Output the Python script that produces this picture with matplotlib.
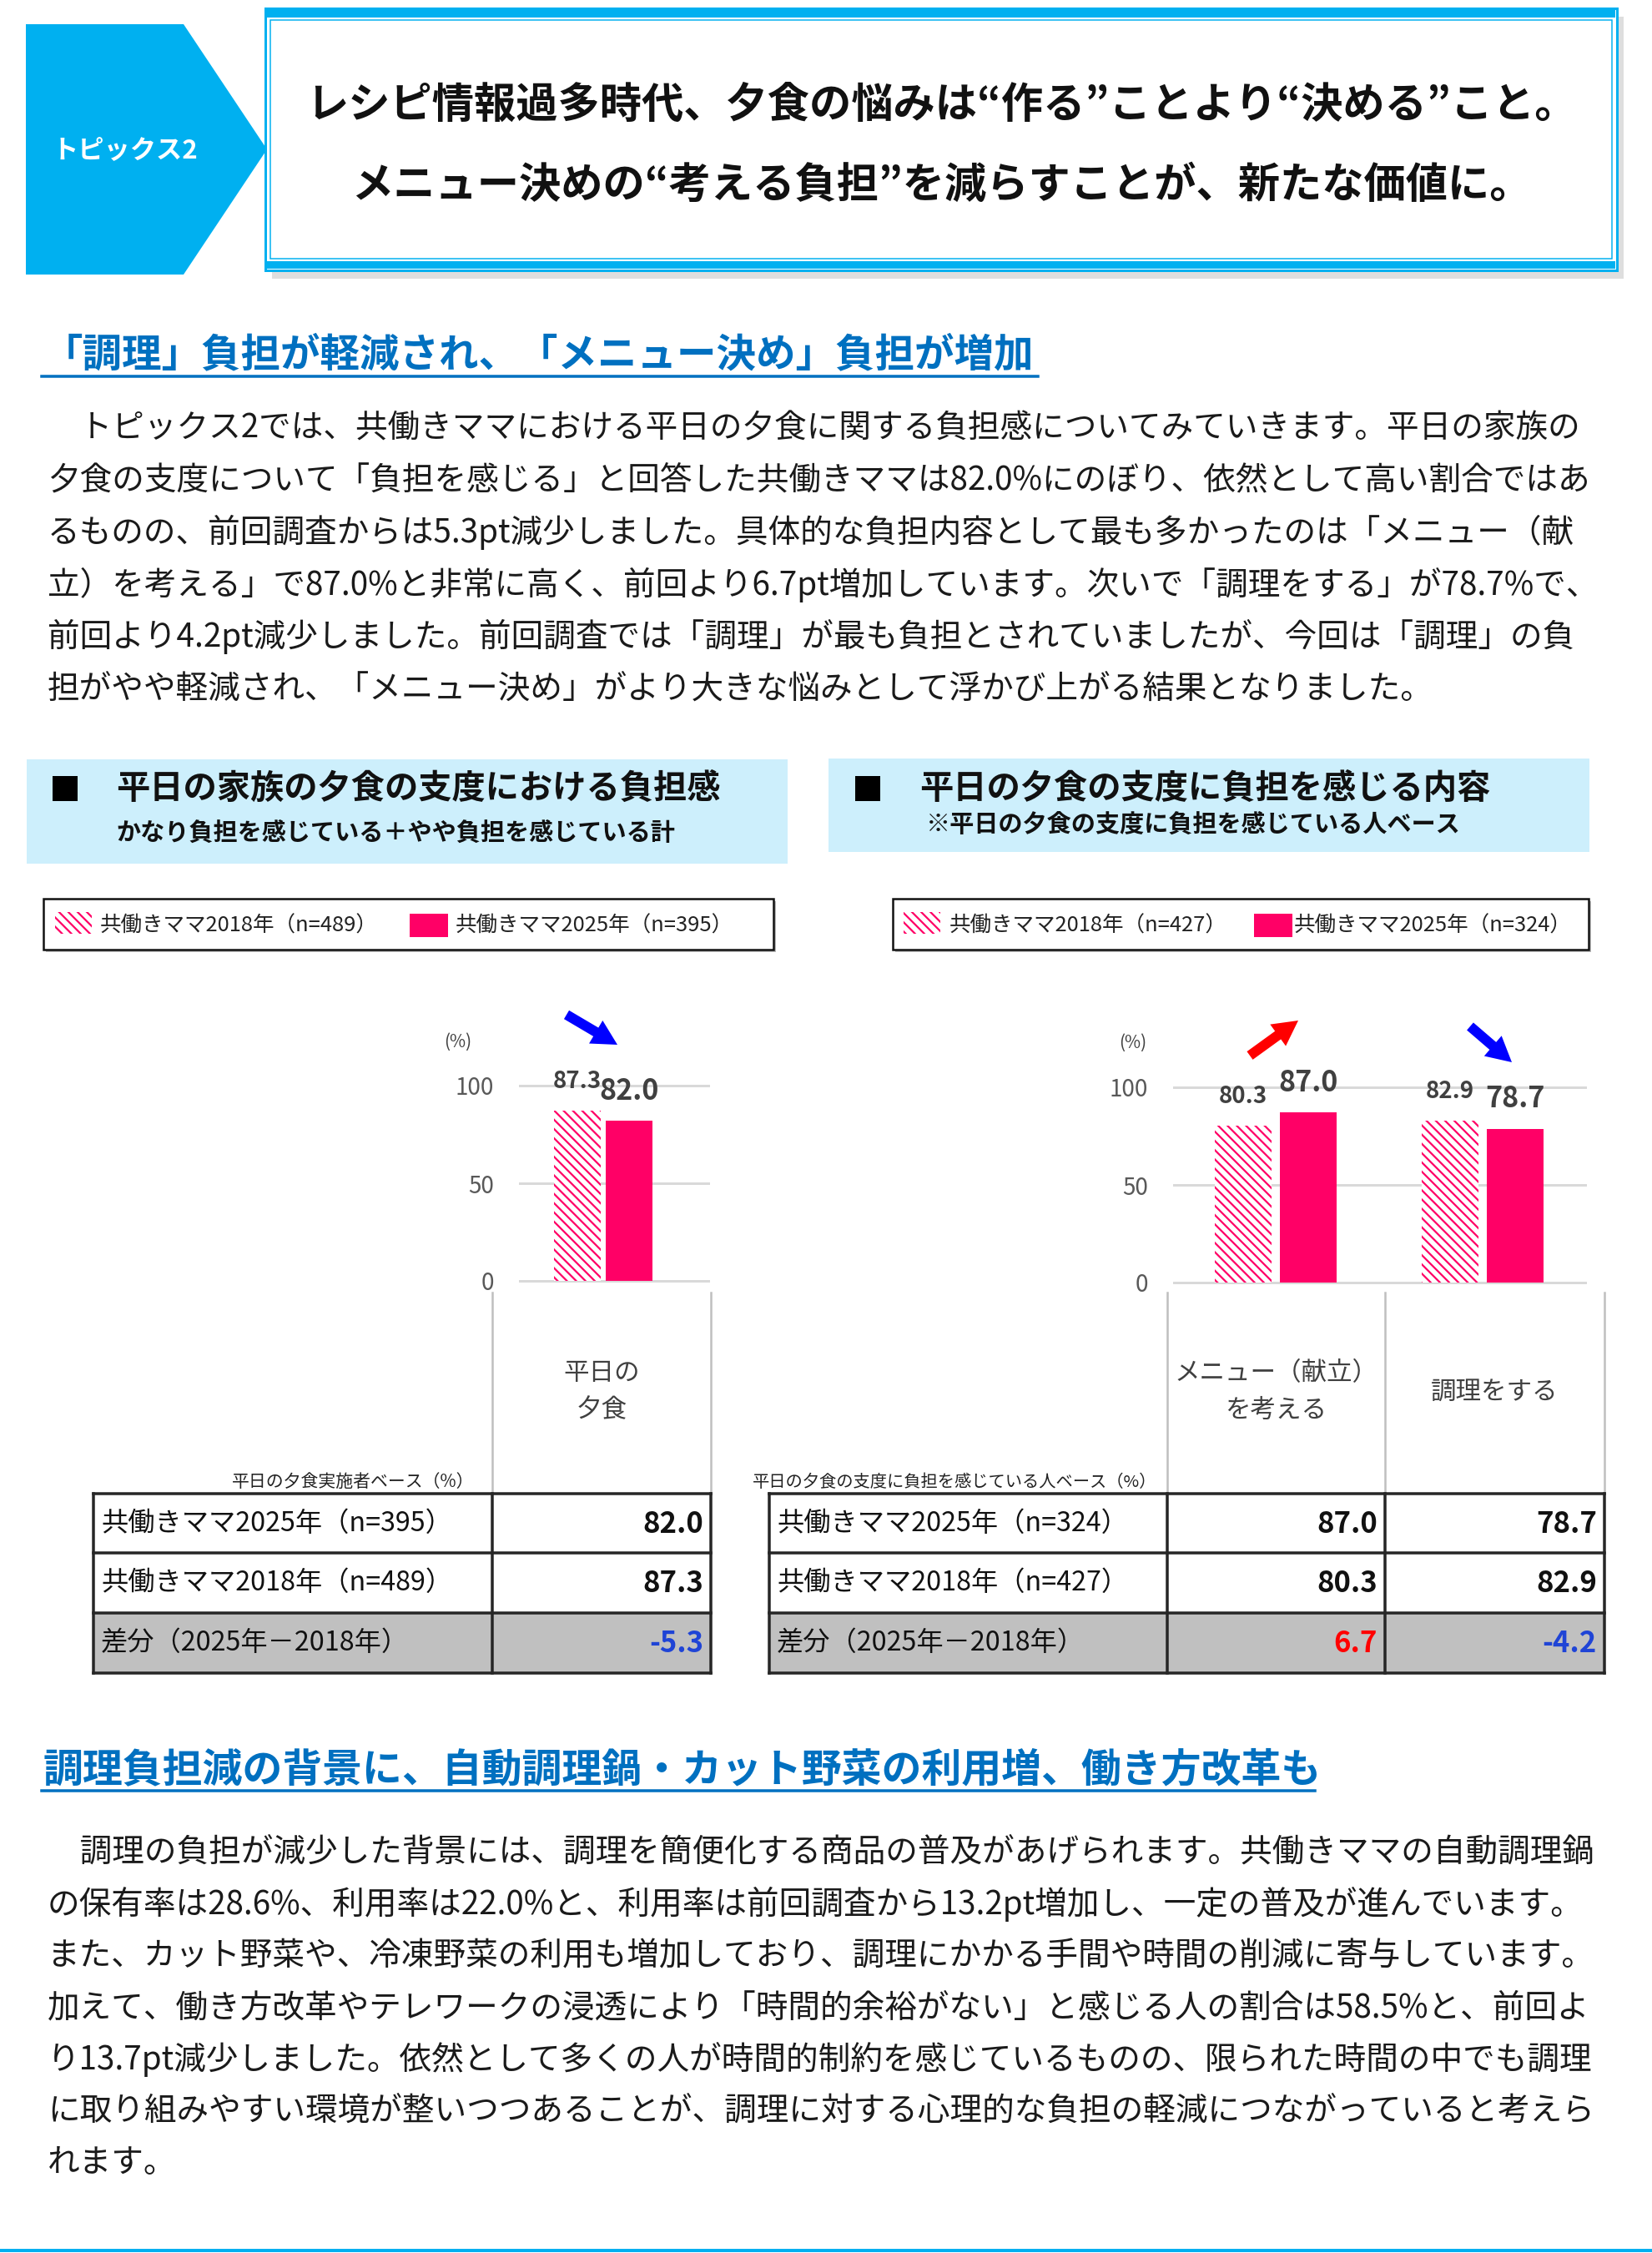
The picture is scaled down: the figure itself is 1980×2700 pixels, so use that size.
import matplotlib
matplotlib.use('Agg')
import matplotlib.pyplot as plt
from matplotlib.patches import Rectangle, Polygon, FancyArrow
import numpy as np

plt.rcParams['font.family'] = ['Noto Sans CJK JP', 'DejaVu Sans']
plt.rcParams['hatch.linewidth'] = 1.6

W, H = 1980, 2700
PINK = '#FF0066'
CYAN = '#00B0F0'
BLUE_HEAD = '#0070C0'
BOX_BG = '#CDEFFC'

# ---- text / data ----
topic_label = 'トピックス2'
title_lines = ['レシピ情報過多時代、夕食の悩みは“作る”ことより“決める”こと。',
               'メニュー決めの“考える負担”を減らすことが、新たな価値に。']
heading1 = '「調理」負担が軽減され、「メニュー決め」負担が増加'
para1 = ['　トピックス2では、共働きママにおける平日の夕食に関する負担感についてみていきます。平日の家族の',
         '夕食の支度について「負担を感じる」と回答した共働きママは82.0%にのぼり、依然として高い割合ではあ',
         'るものの、前回調査からは5.3pt減少しました。具体的な負担内容として最も多かったのは「メニュー（献',
         '立）を考える」で87.0%と非常に高く、前回より6.7pt増加しています。次いで「調理をする」が78.7%で、',
         '前回より4.2pt減少しました。前回調査では「調理」が最も負担とされていましたが、今回は「調理」の負',
         '担がやや軽減され、「メニュー決め」がより大きな悩みとして浮かび上がる結果となりました。']
heading2 = '調理負担減の背景に、自動調理鍋・カット野菜の利用増、働き方改革も'
para2 = ['　調理の負担が減少した背景には、調理を簡便化する商品の普及があげられます。共働きママの自動調理鍋',
         'の保有率は28.6%、利用率は22.0%と、利用率は前回調査から13.2pt増加し、一定の普及が進んでいます。',
         'また、カット野菜や、冷凍野菜の利用も増加しており、調理にかかる手間や時間の削減に寄与しています。',
         '加えて、働き方改革やテレワークの浸透により「時間的余裕がない」と感じる人の割合は58.5%と、前回よ',
         'り13.7pt減少しました。依然として多くの人が時間的制約を感じているものの、限られた時間の中でも調理',
         'に取り組みやすい環境が整いつつあることが、調理に対する心理的な負担の軽減につながっていると考えら',
         'れます。']

left_title = '平日の家族の夕食の支度における負担感'
left_sub = 'かなり負担を感じている＋やや負担を感じている計'
right_title = '平日の夕食の支度に負担を感じる内容'
right_sub = '※平日の夕食の支度に負担を感じている人ベース'

left_cats = ['平日の\n夕食']
left_2018 = [87.3]
left_2025 = [82.0]
left_n = [489, 395]          # 2018, 2025
left_base = '平日の夕食実施者ベース（%）'

right_cats = ['メニュー（献立）\nを考える', '調理をする']
right_2018 = [80.3, 82.9]
right_2025 = [87.0, 78.7]
right_n = [427, 324]
right_base = '平日の夕食の支度に負担を感じている人ベース（%）'

yticks = [0, 50, 100]

fig = plt.figure(figsize=(W / 100, H / 100), dpi=100)
bg = fig.add_axes([0, 0, 1, 1])
bg.set_xlim(0, W)
bg.set_ylim(H, 0)
bg.axis('off')


def pt(p):
    return p * 72 / 100


def add_px_axes(x0, y0, x1, y1):
    return fig.add_axes([x0 / W, 1 - y1 / H, (x1 - x0) / W, (y1 - y0) / H])


# ---- header ----
bg.add_patch(Polygon([(31, 29), (220, 29), (320, 179), (220, 329), (31, 329)],
                     closed=True, color=CYAN, lw=0))
bg.text(150, 181, topic_label, color='white', fontsize=22.5, fontweight='bold',
        ha='center', va='center')

bg.add_patch(Rectangle((326, 20), 1620, 314, color='#C8C8C8', alpha=0.6, lw=0))
bg.add_patch(Rectangle((318, 10), 1620, 314, facecolor='white', edgecolor=CYAN, lw=pt(3)))
bg.add_patch(Rectangle((320, 12), 1616, 9, color=CYAN, lw=0))
bg.add_patch(Rectangle((320, 313), 1616, 9, color=CYAN, lw=0))
bg.add_patch(Rectangle((324, 24), 1608, 286, facecolor='none', edgecolor=CYAN, lw=pt(1.5)))
for yy, line in zip([126, 222], title_lines):
    bg.text(1128, yy, line, fontsize=36.2, fontweight='bold', ha='center', va='center',
            color='#111111')

# ---- section 1 ----
bg.text(52, 425, heading1, fontsize=34.2, fontweight='bold', color=BLUE_HEAD, va='center')
bg.plot([50, 1244], [451, 451], color=BLUE_HEAD, lw=pt(3.5))
for i, line in enumerate(para1):
    bg.text(57, 513 + i * 62.5, line, fontsize=27.8, va='center', color='#1a1a1a')

# ---- chart headers ----
for (x0, x1, y0, y1, sq_x, tx, title, sx, sub, sy) in [
        (32, 944, 910, 1035, 63, 139, left_title, 139, left_sub, 998),
        (993, 1905, 909, 1021, 1025, 1102, right_title, 1110, right_sub, 988)]:
    bg.add_patch(Rectangle((x0, y0), x1 - x0, y1 - y0, color=BOX_BG, lw=0))
    bg.add_patch(Rectangle((sq_x, 930), 30, 30, color='black', lw=0))
    bg.text(tx, 945, title, fontsize=29, fontweight='bold', va='center', color='#111111')
    bg.text(sx, sy, sub, fontsize=21, fontweight='bold', va='center', color='#111111')


# ---- legends ----
def legend_box(x0, x1, hx, sx, tx1, tx2, n):
    bg.add_patch(Rectangle((x0 + 3, 1080), x1 - x0, 61, color='#BBBBBB', lw=0))
    bg.add_patch(Rectangle((x0, 1077), x1 - x0, 61, facecolor='white', edgecolor='#111111',
                           lw=pt(2.5)))
    bg.add_patch(Rectangle((hx, 1093), 44, 26, facecolor='white', edgecolor=PINK,
                           hatch='\\\\\\', lw=0))
    bg.add_patch(Rectangle((sx, 1095), 46, 28, color=PINK, lw=0))
    bg.text(tx1, 1110, f'共働きママ2018年（n={n[0]}）', fontsize=18.4, va='center',
            color='#222222')
    bg.text(tx2, 1110, f'共働きママ2025年（n={n[1]}）', fontsize=18.4, va='center',
            color='#222222')


legend_box(52, 927, 66, 491, 120, 546, left_n)
legend_box(1070, 1904, 1083, 1503, 1138, 1551, right_n)


# ---- bar charts ----
def bar_chart(x0, x1, y100, y0, xlim, cats, v18, v25, width, off):
    s = (y0 - y100) / 100.0
    ax = add_px_axes(x0, y100 - 3 * s, x1, y0 + 3 * s)
    x = np.arange(len(cats))
    ax.bar(x - off, v18, width, facecolor='white', edgecolor=PINK, hatch='\\\\\\', lw=0,
           zorder=3)
    ax.bar(x + off, v25, width, color=PINK, lw=0, zorder=3)
    ax.set_xlim(xlim)
    ax.set_ylim(-3, 103)
    ax.set_yticks(yticks)
    ax.set_xticks([])
    ax.yaxis.grid(True, color='#D9D9D9', lw=pt(3))
    ax.set_axisbelow(True)
    for sp in ax.spines.values():
        sp.set_visible(False)
    ax.tick_params(axis='y', length=0, pad=pt(30), labelsize=20, labelcolor='#595959')
    ax.patch.set_alpha(0)
    for xi, a, b in zip(x, v18, v25):
        ax.annotate(f'{a:.1f}', (xi - off, a), xytext=(0, 25), textcoords='offset points',
                    ha='center', va='center', fontsize=20, fontweight='bold',
                    color='#404040', annotation_clip=False)
        ax.annotate(f'{b:.1f}', (xi + off, b), xytext=(0, 26), textcoords='offset points',
                    ha='center', va='center', fontsize=24.5, fontweight='bold',
                    color='#404040', annotation_clip=False)
    return ax


bar_chart(622, 851, 1301, 1535, (-101 / 229, 128 / 229), left_cats, left_2018, left_2025,
          0.245, 0.135)
bar_chart(1406, 1902, 1303, 1537, (-123 / 248, 373 / 248), right_cats, right_2018,
          right_2025, 0.275, 0.157)

bg.text(549, 1249, '(%)', fontsize=15, ha='center', va='center', color='#404040')
bg.text(1358, 1250, '(%)', fontsize=15, ha='center', va='center', color='#404040')

# arrows
for (sx0, sy0, ex, ey, c) in [(679, 1216, 740, 1252, '#0000FF'),
                              (1498, 1265, 1556, 1223, '#FF0000'),
                              (1762, 1230, 1812, 1273, '#0000FF')]:
    bg.add_patch(FancyArrow(sx0, sy0, ex - sx0, ey - sy0, width=12, head_width=32,
                            head_length=30, length_includes_head=True, color=c, lw=0))


# ---- tables ----
def table(x0, cols, cats, v18, v25, n, base, base_x, base_fs,
          rows=(1790, 1861, 1933, 2005)):
    # category columns above table
    for cx in cols:
        bg.plot([cx, cx], [1549, rows[0]], color='#BFBFBF', lw=pt(2.5))
    for i, cat in enumerate(cats):
        cxm = (cols[i] + cols[i + 1]) / 2
        bg.text(cxm, 1668, cat, fontsize=22, ha='center', va='center', color='#404040',
                linespacing=1.55)
    bg.text(base_x, rows[0] - 14, base, fontsize=base_fs, ha='right', va='center',
            color='#222222')
    x1 = cols[-1]
    bg.add_patch(Rectangle((x0, rows[2]), x1 - x0, rows[3] - rows[2], color='#C0C0C0', lw=0))
    for yy in rows:
        bg.plot([x0, x1], [yy, yy], color='#262626', lw=pt(3.5), solid_capstyle='projecting')
    for xx in [x0] + list(cols):
        bg.plot([xx, xx], [rows[0], rows[3]], color='#262626', lw=pt(3.5),
                solid_capstyle='projecting')
    labels = [f'共働きママ2025年（n={n[1]}）', f'共働きママ2018年（n={n[0]}）',
              '差分（2025年－2018年）']
    for r, lab in enumerate(labels):
        ym = (rows[r] + rows[r + 1]) / 2
        bg.text(x0 + 9, ym, lab, fontsize=23.2, va='center', color='#111111')
    for i in range(len(cats)):
        xr = cols[i + 1] - 9
        d = round(v25[i] - v18[i], 1)
        vals = [(f'{v25[i]:.1f}', '#111111'), (f'{v18[i]:.1f}', '#111111'),
                (f'{d:.1f}', '#FF0000' if d > 0 else '#1F44D6')]
        for r, (txt, c) in enumerate(vals):
            ym = (rows[r] + rows[r + 1]) / 2
            bg.text(xr, ym + 1, txt, fontsize=25, fontweight='bold', ha='right',
                    va='center', color=c)


table(112, [590, 852], left_cats, left_2018, left_2025, left_n, left_base, 568, 15)
table(922, [1399, 1660, 1923], right_cats, right_2018, right_2025, right_n, right_base,
      1386, 14.6)

# ---- section 2 ----
bg.text(52, 2121, heading2, fontsize=34.5, fontweight='bold', color=BLUE_HEAD, va='center')
bg.plot([50, 1576], [2146, 2146], color=BLUE_HEAD, lw=pt(3.5))
for i, line in enumerate(para2):
    bg.text(57, 2220 + i * 62, line, fontsize=27.8, va='center', color='#1a1a1a')

bg.plot([0, W], [2697, 2697], color=CYAN, lw=pt(4))

fig.savefig('out.png', dpi=100)
